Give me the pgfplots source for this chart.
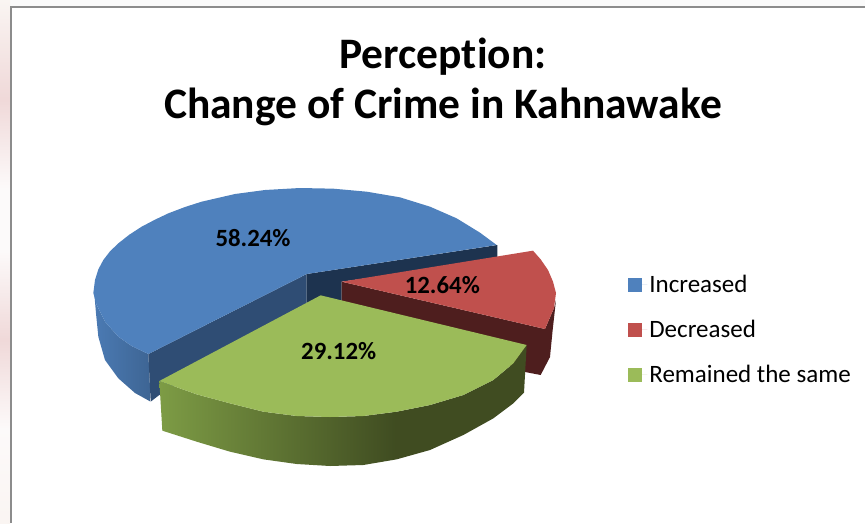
\documentclass[border=0pt]{standalone}
\usepackage{fontspec}
\setmainfont[Ligatures=NoCommon]{Carlito}
\usepackage{pgfplots}
\pgfplotsset{compat=1.18}
\definecolor{bluetop}{HTML}{4F81BD}
\definecolor{redtop}{HTML}{C0504D}
\definecolor{greentop}{HTML}{9BBB59}
\definecolor{bluecut}{HTML}{2F4D74}
\definecolor{navycut}{HTML}{1D334F}
\definecolor{redcut}{HTML}{4E1E1E}
% tikz fits the path to the 25bp--75bp part of a shading
\pgfdeclarehorizontalshading{greenside}{100bp}{
  rgb(0bp)=(0.49,0.61,0.27); rgb(25bp)=(0.49,0.61,0.27);
  rgb(57bp)=(0.25,0.30,0.13); rgb(100bp)=(0.25,0.30,0.13)}
\pgfdeclareverticalshading{windowband}{100bp}{
  rgb(0bp)=(0.98,0.96,0.95); rgb(25bp)=(0.98,0.96,0.95); rgb(34bp)=(0.99,0.98,0.98);
  rgb(42.5bp)=(0.94,0.85,0.85); rgb(51bp)=(0.99,0.98,0.98);
  rgb(57bp)=(0.99,0.98,0.98); rgb(65.5bp)=(0.94,0.85,0.85);
  rgb(75bp)=(0.98,0.96,0.95); rgb(100bp)=(0.98,0.96,0.95)}
\begin{document}
\begin{tikzpicture}
\begin{axis}[
  scale only axis,
  width=865pt, height=523pt,
  xmin=-240, xmax=2355,
  ymin=-510, ymax=1059,
  y dir=reverse,
  axis lines=none,
  legend style={at={(axis cs:1643,479)}, anchor=west, draw=none, fill=none,
    font=\fontsize{25}{29}\selectfont, row sep=22pt, inner sep=0pt},
  legend cell align=left,
  legend image code/.code={\fill[#1,draw=none] (0pt,-7pt) rectangle (14pt,7pt); \path[draw=none] (0pt,0pt) -- (19.5pt,0pt);},
]
% window background and frame
\addplot[forget plot, draw=none, fill=black!2] coordinates {(-240,-510) (2355,-510) (2355,-492) (-240,-492)} -- cycle;
\addplot[forget plot, draw=none, shading=windowband] coordinates {(-240,-510) (-210,-510) (-210,1059) (-240,1059)} -- cycle;
\addplot[forget plot, color=black!45, line width=2pt] coordinates {(-207,1059) (-207,-489) (2355,-489)};
% blue slice
\addplot[forget plot, draw=none, left color=bluetop!95!black, right color=bluetop!78!black] coordinates {
  (42,360) (48,430) (55,500) (75,570) (115,625) (165,669) (212,695) (205,552)
  (155,528) (115,500) (75,455) (50,405)} -- cycle;
\addplot[forget plot, draw=none, fill=bluecut] coordinates {(680,312) (205,552) (212,695) (238,675) (680,420)} -- cycle;
\addplot[forget plot, draw=none, fill=navycut] coordinates {(680,312) (1252,225) (1252,268) (785,335) (785,400) (680,400)} -- cycle;
\addplot[forget plot, draw=none, fill=bluetop] coordinates {
  (680,312) (1250,225) (1200,188) (1130,145) (1050,110) (960,82) (860,65) (760,56)
  (660,54) (555,60) (465,72) (365,95) (315,111) (265,130) (225,149) (185,170) (148,194)
  (115,220) (90,244) (70,270) (55,298) (45,330) (40,369) (50,405) (75,455) (115,500)
  (155,528) (205,552)} -- cycle;
% red slice
\addplot[forget plot, draw=none, fill=redcut] coordinates {
  (785,335) (1395,477) (1422,414) (1428,390) (1418,480) (1410,561) (1382,615) (1335,606) (785,395)} -- cycle;
\addplot[forget plot, draw=none, fill=redtop] coordinates {
  (785,335) (1359,242) (1382,268) (1404,300) (1419,335) (1428,369) (1422,414) (1395,477)} -- cycle;
% green slice
\addplot[forget plot, draw=none, shading=greenside] coordinates {
  (238,633) (350,673) (450,700) (550,725) (650,738) (750,741) (850,738) (950,725)
  (1050,705) (1150,675) (1240,630) (1300,580) (1340,525) (1332,668) (1300,700)
  (1240,745) (1150,795) (1050,840) (950,868) (850,885) (750,888) (650,882)
  (550,868) (450,845) (350,815) (247,782)} -- cycle;
\addplot[forget plot, draw=none, fill=greentop] coordinates {
  (722,376) (1340,525) (1300,580) (1240,630) (1150,675) (1050,705) (950,725)
  (850,738) (750,741) (650,738) (550,725) (450,700) (350,673) (238,633)} -- cycle;
% legend
\addlegendimage{fill=bluetop}
\addlegendentry{Increased}
\addlegendimage{fill=redtop}
\addlegendentry{Decreased}
\addlegendimage{fill=greentop}
\addlegendentry{Remained the same}
% title and data labels
\node[anchor=base, font=\fontsize{43.5}{46}\selectfont\bfseries] at (axis cs:1089,-306) {Perception:};
\node[anchor=base, font=\fontsize{43.5}{46}\selectfont\bfseries] at (axis cs:1089,-156) {Change of Crime in Kahnawake};
\node[font=\fontsize{24.8}{26}\selectfont\bfseries] at (axis cs:519,205) {58.24\%};
\node[font=\fontsize{24.8}{26}\selectfont\bfseries] at (axis cs:1087,345) {12.64\%};
\node[font=\fontsize{24.8}{26}\selectfont\bfseries] at (axis cs:776,542) {29.12\%};
\end{axis}
\end{tikzpicture}
\end{document}
